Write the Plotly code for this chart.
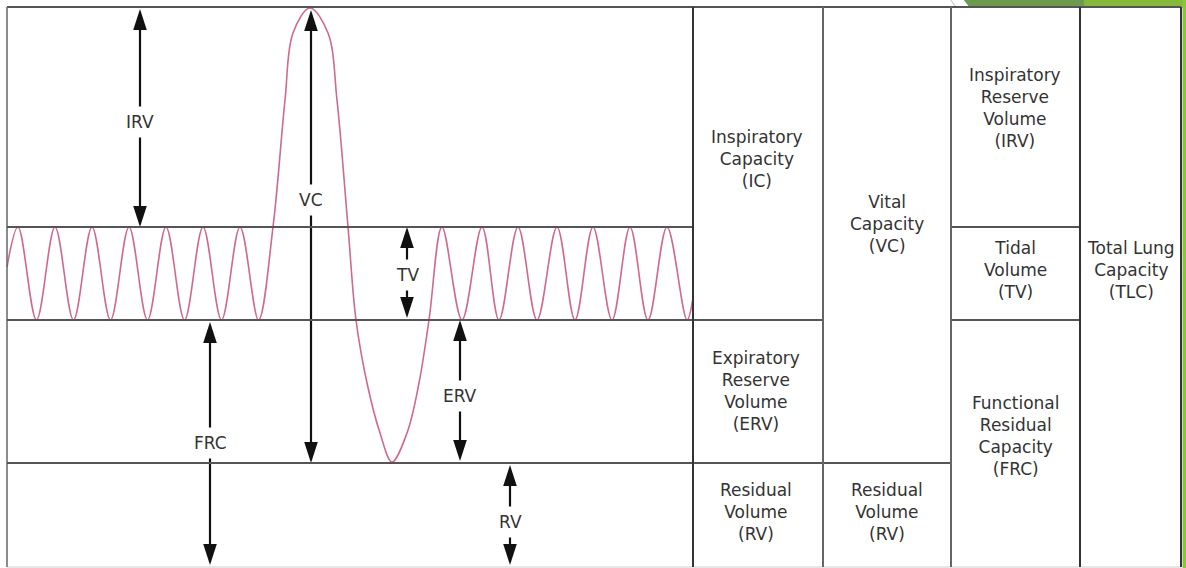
import plotly.graph_objects as go

# ---------------- data ----------------
# Lung-volume levels (arbitrary volume units, measured up from the chart floor)
LEVEL_FLOOR = 0
LEVEL_RV = 104          # top of residual volume
LEVEL_FRC = 247         # end of a normal expiration
LEVEL_TIDAL_TOP = 340   # end of a normal inspiration
LEVEL_TLC = 560         # total lung capacity

# Spirometer trace: turning / reference points
wave_time = [7, 18, 36.5, 55, 73.5, 92, 110.5, 129, 147.5, 166, 184.5, 203, 221.5, 240, 258.5,
             273, 285, 293, 310, 328, 337, 348, 356, 367, 380, 392, 407, 419, 429, 442,
             462, 482, 499, 518, 537, 557, 575, 593, 612, 630, 648, 667, 687, 693]
wave_volume = [300, 340, 247, 340, 247, 340, 247, 340, 247, 340, 247, 340, 247, 340, 247,
               340, 467, 534, 559, 534, 467, 340, 247, 184, 134, 105, 134, 184, 247, 340,
               247, 340, 247, 340, 247, 340, 247, 340, 247, 340, 247, 340, 247, 269]

# Arrow labels on the trace and the volumes they span (from, to)
arrow_labels = ["IRV", "VC", "TV", "FRC", "ERV", "RV"]
arrow_from = [LEVEL_TIDAL_TOP, LEVEL_RV, LEVEL_FRC, LEVEL_FLOOR, LEVEL_RV, LEVEL_FLOOR]
arrow_to = [LEVEL_TLC, LEVEL_TLC, LEVEL_TIDAL_TOP, LEVEL_FRC, LEVEL_FRC, LEVEL_RV]

# Table cells
cell_labels = [
    "Inspiratory<br>Capacity<br>(IC)",
    "Expiratory<br>Reserve<br>Volume<br>(ERV)",
    "Residual<br>Volume<br>(RV)",
    "Vital<br>Capacity<br>(VC)",
    "Residual<br>Volume<br>(RV)",
    "Inspiratory<br>Reserve<br>Volume<br>(IRV)",
    "Tidal<br>Volume<br>(TV)",
    "Functional<br>Residual<br>Capacity<br>(FRC)",
    "Total Lung<br>Capacity<br>(TLC)",
]

# ---------------- layout geometry (not data) ----------------
X_LEFT, X_GRAPH_END = 7, 693
COL_EDGES = [693, 823, 951, 1080, 1181]
ARROW_X = [140, 311, 407, 210, 460, 510]
ARROW_TIP_PAD = [(0, 2), (0, 3), (2, 0), (2, 2), (2, 0), (2, 2)]  # (bottom pad, top pad)
ARROW_LABEL_Y = [445, 367, 292, 124, 171, 45]
CELL_POS = [(757, 408), (756, 176), (756, 55), (887, 343), (887, 55),
            (1015, 459), (1015, 297), (1015, 131), (1131, 297)]

FONT = "DejaVu Sans"
TEXT_COLOR = "#333333"
LINE_COLOR = "#555555"
DARK_LINE = "#333333"
WAVE_COLOR = "#cf6a8a"

fig = go.Figure()

# spirometer trace
fig.add_trace(go.Scatter(
    x=wave_time, y=wave_volume, mode="lines",
    line=dict(color=WAVE_COLOR, width=1.6, shape="spline", smoothing=1.0),
    hoverinfo="skip", showlegend=False))

# arrows: shafts
sx, sy = [], []
mx, my, mang = [], [], []
for x, v0, v1, pad in zip(ARROW_X, arrow_from, arrow_to, ARROW_TIP_PAD):
    lo, hi = v0 + pad[0], v1 - pad[1]
    sx += [x, x, None]
    sy += [lo + 6, hi - 6, None]
    mx += [x, x]
    my += [hi, lo]
    mang += [0, 180]
fig.add_trace(go.Scatter(x=sx, y=sy, mode="lines",
                         line=dict(color="#111111", width=2.2),
                         hoverinfo="skip", showlegend=False))
fig.add_trace(go.Scatter(x=mx, y=my, mode="markers",
                         marker=dict(symbol="arrow", size=22, angle=mang,
                                     color="#111111", line=dict(width=0)),
                         hoverinfo="skip", showlegend=False))

annotations = []
for lab, x, ly in zip(arrow_labels, ARROW_X, ARROW_LABEL_Y):
    annotations.append(dict(x=x, y=ly, xref="x", yref="y", text=lab, showarrow=False,
                            font=dict(family=FONT, size=17, color=TEXT_COLOR),
                            bgcolor="white", borderpad=5))
for lab, (cx, cy) in zip(cell_labels, CELL_POS):
    annotations.append(dict(x=cx, y=cy, xref="x", yref="y", text=lab, showarrow=False,
                            font=dict(family=FONT, size=17, color=TEXT_COLOR)))

shapes = []


def hline(x0, x1, y, color=LINE_COLOR, w=2):
    shapes.append(dict(type="line", xref="x", yref="y", x0=x0, x1=x1, y0=y, y1=y,
                       line=dict(color=color, width=w), layer="above"))


def vline(x, y0, y1, color=LINE_COLOR, w=2):
    shapes.append(dict(type="line", xref="x", yref="y", x0=x, x1=x, y0=y0, y1=y1,
                       line=dict(color=color, width=w), layer="above"))


# decoration (slide background)
shapes.append(dict(type="path", xref="x", yref="y",
                   path="M 963 568 L 1084 568 L 1084 559 L 970 559 Z",
                   fillcolor="#6c9b50", line=dict(width=0), layer="below"))
shapes.append(dict(type="path", xref="x", yref="y",
                   path="M 1084 568 L 1187 568 L 1187 559 L 1084 559 Z",
                   fillcolor="#86b83c", line=dict(width=0), layer="below"))
shapes.append(dict(type="rect", xref="x", yref="y", x0=1182.5, x1=1187, y0=-2, y1=568,
                   fillcolor="#8cc43e", line=dict(width=0), layer="below"))
shapes.append(dict(type="line", xref="x", yref="y", x0=950, x1=956, y0=568, y1=560,
                   line=dict(color="#bbbbbb", width=1), layer="below"))

# frame
hline(X_LEFT, COL_EDGES[-1], LEVEL_TLC)
hline(X_LEFT, COL_EDGES[-1], LEVEL_FLOOR, color="#cccccc", w=1)
vline(X_LEFT, LEVEL_FLOOR, LEVEL_TLC, color="#666666", w=1.5)
vline(COL_EDGES[-1], LEVEL_FLOOR, LEVEL_TLC, color=DARK_LINE, w=2)
# internal grid
hline(X_LEFT, X_GRAPH_END, LEVEL_TIDAL_TOP)
hline(COL_EDGES[2], COL_EDGES[3], LEVEL_TIDAL_TOP)
hline(X_LEFT, COL_EDGES[1], LEVEL_FRC)
hline(COL_EDGES[2], COL_EDGES[3], LEVEL_FRC)
hline(X_LEFT, COL_EDGES[2], LEVEL_RV)
vline(COL_EDGES[0], LEVEL_FLOOR, LEVEL_TLC, color=DARK_LINE, w=2)
vline(COL_EDGES[1], LEVEL_FLOOR, LEVEL_TLC, color="#666666", w=2)
vline(COL_EDGES[2], LEVEL_FLOOR, LEVEL_TLC, color="#666666", w=2)
vline(COL_EDGES[3], LEVEL_FLOOR, LEVEL_TLC, color=DARK_LINE, w=2)

fig.update_layout(
    width=1186, height=568,
    margin=dict(l=0, r=0, t=0, b=0),
    paper_bgcolor="white", plot_bgcolor="white",
    xaxis=dict(range=[0, 1186], visible=False, fixedrange=True),
    yaxis=dict(range=[-1, 567], visible=False, fixedrange=True),
    annotations=annotations, shapes=shapes,
    showlegend=False,
)

fig.write_html("out.html", config={"displayModeBar": False},
               post_script="document.body.style.margin='0';document.body.style.overflow='hidden';")
